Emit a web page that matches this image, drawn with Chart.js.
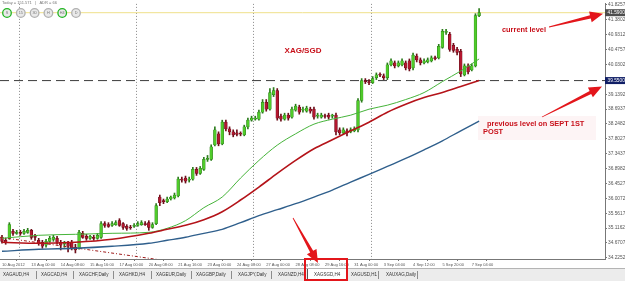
<!DOCTYPE html>
<html>
<head>
<meta charset="utf-8">
<script src="https://cdn.jsdelivr.net/npm/chart.js@4.4.0/dist/chart.umd.min.js"></script>
<style>
  html, body { margin: 0; padding: 0; background: #fff; }
  #wrap { position: relative; width: 625px; height: 281px; overflow: hidden; font-family: "Liberation Sans", Arial, sans-serif; }
  #chart { position: absolute; left: 0; top: 0; }
  #tabs { position: absolute; left: 0; top: 268px; width: 625px; height: 13px; background: #ececec;
          border-top: 1px solid #b4b4b4; box-sizing: border-box; font-size: 4.5px; color: #333; }
  .tab { position: absolute; top: 2px; line-height: 8px; white-space: nowrap; }
  .sep { position: absolute; top: 2px; width: 1px; height: 8px; background: #8c8c8c; }
  .active { position: absolute; top: 0; left: 307px; width: 40px; height: 12px; background: #fff; border-left: 1px solid #555; box-sizing: border-box; }
  #mark { position: absolute; left: 304px; top: 258px; width: 44px; height: 23px; border: 2px solid #e3161b; box-sizing: border-box; }
</style>
</head>
<body>
<div id="wrap">
  <canvas id="chart" width="625" height="268"></canvas>
  <div id="tabs"><div class="active"></div></div>
  <div id="mark"></div>
</div>
<script>
// XAG/SGD H4 candles, 10 Aug - 7 Sep 2012
const open = [
  34.84,34.75,34.81,35.02,34.96,34.99,34.96,34.99,35.05,34.87,
  34.75,34.69,34.60,34.72,34.78,34.81,34.69,34.63,34.66,34.69,
  34.54,34.51,34.96,34.87,34.81,34.84,34.81,34.84,35.25,35.22,
  35.20,35.22,35.34,35.25,35.17,35.14,35.17,35.20,35.22,35.25,
  35.28,35.14,35.25,36.05,35.94,35.91,35.99,36.02,36.08,36.59,
  36.62,36.56,36.59,36.88,36.76,36.88,37.18,37.18,37.62,37.95,
  37.65,38.30,38.10,38.01,37.98,37.95,37.92,38.16,38.36,38.39,
  38.39,38.60,38.90,38.69,39.13,39.25,38.48,38.39,38.51,38.45,
  38.66,38.75,38.66,38.63,38.69,38.69,38.48,38.45,38.48,38.51,
  38.48,38.51,38.07,37.98,38.04,38.01,38.04,38.07,38.95,39.55,
  39.52,39.49,39.64,39.72,39.69,39.64,40.02,40.08,39.99,40.02,
  40.08,40.14,39.93,40.29,40.17,40.08,40.11,40.14,40.23,40.23,
  40.55,41.00,40.94,40.61,40.49,40.43,39.72,39.99,39.87,39.99,
  41.50
];
const high = [
  34.90,34.81,35.28,35.08,35.05,35.05,35.08,35.11,35.08,34.93,
  34.81,34.75,34.78,34.87,34.90,34.87,34.75,34.72,34.72,34.75,
  34.63,35.05,35.02,34.93,34.90,34.90,34.96,35.31,35.31,35.28,
  35.31,35.34,35.40,35.28,35.22,35.20,35.25,35.31,35.34,35.31,
  35.34,35.28,35.85,36.11,35.99,36.05,36.08,36.17,36.65,36.65,
  36.68,36.65,36.94,36.94,36.97,37.24,37.30,37.62,38.16,38.01,
  38.36,38.36,38.16,38.07,38.07,38.01,38.21,38.42,38.48,38.48,
  38.66,38.98,38.98,39.31,39.34,39.31,38.54,38.57,38.57,38.75,
  38.84,38.81,38.75,38.78,38.75,38.75,38.57,38.57,38.54,38.57,
  38.54,38.57,38.13,38.13,38.10,38.13,38.16,39.01,39.61,39.61,
  39.58,39.67,39.78,39.78,39.75,40.08,40.20,40.14,40.14,40.20,
  40.14,40.20,40.38,40.35,40.23,40.20,40.23,40.29,40.29,40.64,
  41.09,41.09,41.00,40.67,40.55,40.49,40.05,40.05,40.05,41.56,
  41.71
];
const low = [
  34.66,34.63,34.78,34.90,34.93,34.90,34.93,34.96,34.78,34.75,
  34.60,34.51,34.54,34.69,34.72,34.63,34.46,34.54,34.40,34.46,
  34.37,34.48,34.81,34.75,34.78,34.75,34.78,34.81,35.14,35.14,
  35.17,35.20,35.17,35.08,35.05,35.08,35.14,35.17,35.20,35.20,
  35.05,35.11,35.22,35.79,35.85,35.88,35.96,35.99,36.05,36.50,
  36.47,36.50,36.56,36.70,36.73,36.85,37.12,37.15,37.59,37.59,
  37.62,38.04,37.92,37.86,37.89,37.89,37.89,38.10,38.33,38.36,
  38.36,38.57,38.63,38.66,39.07,38.36,38.33,38.36,38.36,38.42,
  38.63,38.54,38.60,38.60,38.57,38.39,38.42,38.42,38.42,38.39,
  38.42,37.92,37.92,37.95,37.89,37.98,38.01,38.01,38.90,39.46,
  39.43,39.46,39.58,39.67,39.58,39.58,39.99,39.93,39.96,39.99,
  39.87,39.84,39.87,40.11,40.02,40.05,40.08,40.11,40.17,40.20,
  40.52,40.94,40.43,40.40,40.32,39.67,39.69,39.75,39.84,39.96,
  41.47
];
const close = [
  34.72,34.69,35.22,34.96,34.99,34.96,35.02,35.05,34.84,34.84,
  34.66,34.57,34.72,34.81,34.84,34.69,34.60,34.66,34.57,34.51,
  34.46,34.99,34.84,34.81,34.87,34.81,34.90,35.25,35.20,35.17,
  35.25,35.28,35.20,35.14,35.11,35.12,35.20,35.25,35.28,35.22,
  35.14,35.22,35.79,35.88,35.91,35.99,36.05,36.11,36.59,36.56,
  36.53,36.59,36.88,36.76,36.91,37.18,37.21,37.56,38.07,37.65,
  38.30,38.10,38.01,37.92,37.93,37.94,38.16,38.36,38.42,38.42,
  38.60,38.90,38.69,39.19,39.25,38.42,38.39,38.51,38.42,38.69,
  38.78,38.60,38.69,38.72,38.63,38.45,38.51,38.51,38.47,38.45,
  38.50,38.01,37.98,38.07,37.98,38.07,38.10,38.95,39.55,39.52,
  39.49,39.61,39.72,39.71,39.64,40.02,40.14,39.99,40.08,40.14,
  39.93,39.90,40.32,40.17,40.08,40.14,40.17,40.23,40.21,40.58,
  41.03,41.03,40.49,40.46,40.40,39.75,39.99,39.81,39.99,41.50,
  41.59
];

// moving averages read at every 5th/10th bar
const maIdx  = [0,10,20,30,40,45,50,55,60,65,70,75,80,85,90,95,100,105,110,115,120,125,130];
const maFast = [34.81,34.90,34.93,34.96,34.99,35.11,35.34,35.73,36.05,36.62,37.15,37.61,37.95,38.24,38.39,38.51,38.69,38.81,38.98,39.19,39.52,39.84,40.20];
const maMid  = [34.69,34.66,34.69,34.78,34.96,35.08,35.20,35.37,35.61,35.96,36.35,36.76,37.15,37.50,37.77,38.04,38.30,38.60,38.84,39.04,39.19,39.37,39.55];
const maSlow = [34.42,34.48,34.51,34.57,34.66,34.75,34.84,34.96,35.08,35.28,35.49,35.67,35.85,36.05,36.26,36.50,36.73,36.97,37.21,37.47,37.74,38.04,38.33];

const trendIdx = [-0.5, 60];
const trendVal = [34.84, 33.90];

const currentLevel = 41.59;
const prevLevel = 39.55;

const xTickIdx = [0,8,16,24,32,40,48,56,64,72,80,88,96,104,112,120,128];
const xLabels = ["10 Aug 2012","13 Aug 00:00","14 Aug 08:00","15 Aug 16:00","17 Aug 00:00","20 Aug 08:00",
  "21 Aug 16:00","23 Aug 00:00","24 Aug 08:00","27 Aug 00:00","28 Aug 08:00","29 Aug 16:00",
  "31 Aug 00:00","3 Sep 04:00","4 Sep 12:00","5 Sep 20:00","7 Sep 04:00"];
const yTicks = [41.8257,41.3802,40.9312,40.4757,40.0302,39.1392,38.6937,38.2482,37.8027,
  37.3437,36.8982,36.4527,36.0072,35.5617,35.1162,34.6707,34.2252];
const sepIdx = [4.5, 36.5, 68.5, 100.5];

const tabNames = ["XAGAUD,H4","XAGCAD,H4","XAGCHF,Daily","XAGHKD,H4","XAGEUR,Daily","XAGGBP,Daily",
  "XAGJPY,Daily","XAGNZD,H4","XAGSGD,H4","XAGUSD,H1","XAUXAG,Daily"];
const periodButtons = ["S","15","30","H","H4","D"];

// layout of the terminal tab strip
const tabLeft = [3, 41, 79, 119, 156, 196, 238, 278, 314, 351, 386];
const sepLeft = [36, 73, 113, 151, 191, 231, 271, 378, 417];

const X_MIN = -0.545, X_MAX = 164.3;
const FONT = '"Liberation Sans", Arial, sans-serif';

const up = close.map((c, i) => c >= open[i]);
const wickData = low.map((l, i) => ({ x: i, y: [l, high[i]] }));
const bodyData = open.map((o, i) => ({ x: i, y: [o, close[i]] }));
const pts = (xs, ys) => xs.map((x, k) => ({ x, y: ys[k] }));
const hline = (v) => [{ x: X_MIN, y: v }, { x: X_MAX, y: v }];

const lineDs = (data, color, width, extra) => Object.assign({
  type: "line", data, borderColor: color, borderWidth: width, pointRadius: 0,
  fill: false, order: 0
}, extra || {});

const bg = {
  id: "bg",
  beforeDraw(chart) {
    const { ctx } = chart;
    ctx.save();
    ctx.fillStyle = "#fff";
    ctx.fillRect(0, 0, chart.width, chart.height);
    // faint note box
    ctx.fillStyle = "#fdf4f5";
    ctx.fillRect(478, 116, 118, 24);
    ctx.restore();
  },
  beforeDatasetsDraw(chart) {
    const { ctx, chartArea: a, scales: { x } } = chart;
    ctx.save();
    ctx.strokeStyle = "#8a8a8a";
    ctx.lineWidth = 1;
    ctx.setLineDash([1, 2]);
    sepIdx.forEach((v) => {
      const px = Math.round(x.getPixelForValue(v)) + 0.5;
      ctx.beginPath();
      ctx.moveTo(px, a.top);
      ctx.lineTo(px, a.bottom);
      ctx.stroke();
    });
    ctx.restore();
  }
};

function arrow(ctx, x0, y0, x1, y1) {
  const ang = Math.atan2(y1 - y0, x1 - x0);
  const len = Math.hypot(x1 - x0, y1 - y0);
  const head = 13, hw = 5.5;
  ctx.save();
  ctx.translate(x0, y0);
  ctx.rotate(ang);
  ctx.beginPath();
  ctx.moveTo(0, -0.4);
  ctx.lineTo(len - head, -1.7);
  ctx.lineTo(len - head, -hw);
  ctx.lineTo(len, 0);
  ctx.lineTo(len - head, hw);
  ctx.lineTo(len - head, 1.7);
  ctx.lineTo(0, 0.4);
  ctx.closePath();
  ctx.fillStyle = "#e3161b";
  ctx.fill();
  ctx.restore();
}

const overlay = {
  id: "overlay",
  afterDraw(chart) {
    const { ctx, chartArea: a, scales: { y } } = chart;
    ctx.save();

    // price boxes on the axis
    const box = (v, fill) => {
      const py = y.getPixelForValue(v);
      ctx.fillStyle = fill;
      ctx.fillRect(a.right, py - 3.5, chart.width - a.right, 7);
      ctx.fillStyle = "#fff";
      ctx.font = "4.8px " + FONT;
      ctx.textBaseline = "middle";
      ctx.textAlign = "left";
      ctx.fillText(v.toFixed(4), a.right + 2.5, py);
    };
    box(currentLevel, "#4d4d4d");
    box(prevLevel, "#101e66");

    // info line and period buttons
    ctx.fillStyle = "#777";
    ctx.font = "4px " + FONT;
    ctx.textBaseline = "top";
    ctx.fillText("Today = 151.571   |   ADR = 66", 2, 1);
    periodButtons.forEach((t, k) => {
      const cx = 7 + k * 13.8, cy = 13;
      ctx.beginPath();
      ctx.arc(cx, cy, 4.3, 0, Math.PI * 2);
      ctx.fillStyle = "#e9e9e9";
      ctx.fill();
      ctx.lineWidth = 1.3;
      ctx.strokeStyle = (k === 0 || k === 4) ? "#22b522" : "#b0b0b0";
      ctx.stroke();
      ctx.fillStyle = "#777";
      ctx.font = "3.8px " + FONT;
      ctx.textAlign = "center";
      ctx.textBaseline = "middle";
      ctx.fillText(t, cx, cy + 0.3);
    });

    // notes
    ctx.fillStyle = "#c8101a";
    ctx.textAlign = "center";
    ctx.textBaseline = "middle";
    ctx.font = "bold 8px " + FONT;
    ctx.fillText("XAG/SGD", 303, 51);
    ctx.textAlign = "left";
    ctx.font = "bold 7.4px " + FONT;
    ctx.fillText("current level", 502, 30);
    ctx.fillText("previous level on SEPT 1ST", 487, 124);
    ctx.fillText("POST", 483, 132);

    arrow(ctx, 549, 27, 603, y.getPixelForValue(currentLevel) + 1);
    arrow(ctx, 542, 117, 602, y.getPixelForValue(prevLevel) + 6);
    arrow(ctx, 293, 218, 318, 263);
    ctx.restore();
  }
};

const chart = new Chart(document.getElementById("chart"), {
  type: "bar",
  data: {
    datasets: [
      lineDs(hline(currentLevel), "#efe08a", 1, { order: 5 }),
      lineDs(hline(prevLevel), "#3c3c3c", 1, { borderDash: [9, 5], order: 5 }),
      {
        type: "bar", data: wickData, grouped: false, barThickness: 1,
        backgroundColor: up.map((u) => (u ? "#2c7d1c" : "#6e0f1a")), borderWidth: 0, order: 4
      },
      {
        type: "bar", data: bodyData, grouped: false, barThickness: 2.8, minBarLength: 1,
        backgroundColor: up.map((u) => (u ? "#4fcb2a" : "#b3172f")),
        borderColor: up.map((u) => (u ? "#2a7a18" : "#5c0a14")),
        borderWidth: 0.5, borderSkipped: false, order: 3
      },
      lineDs(pts(trendIdx, trendVal), "#a01c1c", 1, { borderDash: [3, 2, 1, 2], order: 2 }),
      lineDs(pts(maIdx, maSlow), "#2f5f8c", 1.4, { cubicInterpolationMode: "monotone" }),
      lineDs(pts(maIdx, maMid), "#b41319", 1.6, { cubicInterpolationMode: "monotone" }),
      lineDs(pts(maIdx, maFast), "#46b43a", 1, { cubicInterpolationMode: "monotone" })
    ]
  },
  options: {
    responsive: false,
    animation: false,
    devicePixelRatio: 1,
    events: [],
    layout: { padding: 0 },
    plugins: { legend: { display: false }, tooltip: { enabled: false } },
    scales: {
      x: {
        type: "linear", min: X_MIN, max: X_MAX, offset: false, position: "bottom",
        grid: { drawOnChartArea: false, tickLength: 2, color: "#777" },
        border: { color: "#777" },
        afterBuildTicks: (s) => { s.ticks = xTickIdx.map((v) => ({ value: v })); },
        afterFit: (s) => { s.height = 9; },
        ticks: {
          autoSkip: false, maxRotation: 0, align: "start", padding: 1, color: "#555",
          font: { size: 4, family: FONT },
          callback: (v) => xLabels[xTickIdx.indexOf(v)]
        }
      },
      y: {
        type: "linear", position: "right", min: 34.188, max: 41.855,
        grid: { drawOnChartArea: false, tickLength: 2, color: "#777" },
        border: { color: "#777" },
        afterBuildTicks: (s) => { s.ticks = yTicks.map((v) => ({ value: v })); },
        afterFit: (s) => { s.width = 20; },
        ticks: {
          autoSkip: false, padding: 1, color: "#555",
          font: { size: 4.8, family: FONT },
          callback: (v) => v.toFixed(4)
        }
      }
    }
  },
  plugins: [bg, overlay]
});

// terminal tabs under the chart
const tabs = document.getElementById("tabs");
tabNames.forEach((name, k) => {
  const span = document.createElement("span");
  span.className = "tab";
  span.style.left = tabLeft[k] + "px";
  span.innerText = name;
  tabs.appendChild(span);
});
sepLeft.forEach((left) => {
  const bar = document.createElement("div");
  bar.className = "sep";
  bar.style.left = left + "px";
  tabs.appendChild(bar);
});
</script>
</body>
</html>
